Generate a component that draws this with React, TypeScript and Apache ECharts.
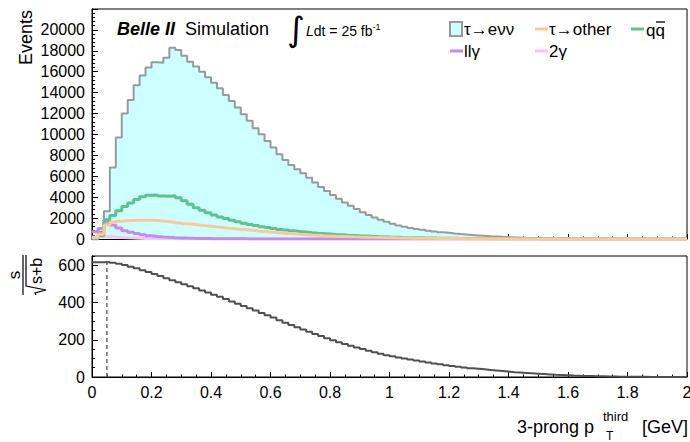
import React, { useEffect, useRef } from "react";
import * as echarts from "echarts";

// Histogram binning: 100 bins of 0.02 GeV from 0 to 2 GeV
const BIN_WIDTH = 0.02;
const X_MIN = 0;
const X_MAX = 2;

// Events per bin, signal tau -> e nu nu
const tauEvv = [
  60, 700, 2650, 6850, 9700, 12000, 13300, 14700, 15650, 16400,
  16900, 16850, 17330, 18300, 18080, 17520, 16950, 16500, 16000, 15480,
  14950, 14420, 13780, 13200, 12570, 11930, 11300, 10600, 10020, 9380,
  8750, 8110, 7560, 7080, 6670, 6300, 5850, 5400, 4980, 4580,
  4200, 3850, 3500, 3170, 2860, 2560, 2300, 2060, 1840, 1640,
  1460, 1300, 1170, 1060, 965, 880, 800, 720, 650, 590,
  530, 475, 425, 380, 340, 300, 265, 235, 205, 180,
  158, 138, 120, 104, 90, 77, 66, 56, 47, 40,
  33, 27, 22, 18, 15, 12, 10, 8, 6, 5,
  4, 3, 3, 2, 2, 1, 1, 1, 0, 0,
];

// Background: tau -> other
const tauOther = [
  150, 450, 1350, 1600, 1700, 1740, 1770, 1790, 1800, 1800,
  1760, 1720, 1660, 1600, 1530, 1460, 1400, 1340, 1280, 1220,
  1160, 1100, 1040, 985, 930, 880, 830, 770, 720, 670,
  620, 575, 530, 490, 450, 415, 380, 350, 320, 295,
  270, 248, 228, 209, 191, 175, 160, 146, 133, 121,
  110, 100, 91, 83, 75, 68, 61, 55, 50, 45,
  40, 36, 32, 29, 26, 23, 20, 18, 16, 14,
  12, 11, 10, 9, 8, 7, 6, 5, 4, 4,
  3, 3, 2, 2, 2, 1, 1, 1, 1, 0,
  0, 0, 0, 0, 0, 0, 0, 0, 0, 0,
];

// Background: q qbar continuum
const qqbar = [
  0, 300, 1850, 2250, 2700, 3100, 3450, 3780, 4030, 4180,
  4200, 4120, 4090, 4130, 3950, 3650, 3330, 3000, 2750, 2520,
  2300, 2110, 1950, 1790, 1640, 1510, 1390, 1280, 1180, 1090,
  1000, 920, 850, 780, 720, 665, 610, 560, 515, 475,
  435, 400, 365, 335, 305, 280, 255, 232, 211, 192,
  175, 159, 144, 131, 119, 108, 98, 88, 80, 72,
  65, 58, 52, 47, 42, 38, 34, 30, 27, 24,
  21, 19, 17, 15, 13, 11, 10, 9, 8, 7,
  6, 5, 4, 4, 3, 3, 2, 2, 2, 1,
  1, 1, 0, 0, 0, 0, 0, 0, 0, 0,
];

// Background: l l gamma
const llGamma = [
  700, 1000, 1600, 1350, 1050, 800, 650, 520, 400, 310,
  250, 200, 160, 130, 105, 85, 70, 58, 48, 40,
  33, 27, 22, 18, 15, 12, 10, 8, 6, 5,
  4, 3, 3, 2, 2, 1, 1, 0, 0, 0,
  0, 0, 0, 0, 0, 0, 0, 0, 0, 0,
  0, 0, 0, 0, 0, 0, 0, 0, 0, 0,
  0, 0, 0, 0, 0, 0, 0, 0, 0, 0,
  0, 0, 0, 0, 0, 0, 0, 0, 0, 0,
  0, 0, 0, 0, 0, 0, 0, 0, 0, 0,
  0, 0, 0, 0, 0, 0, 0, 0, 0, 0,
];

// Background: two-photon
const twoGamma = [
  200, 260, 230, 180, 140, 110, 85, 65, 50, 40,
  30, 24, 19, 15, 12, 9, 7, 6, 5, 4,
  3, 2, 2, 1, 0, 0, 0, 0, 0, 0,
  0, 0, 0, 0, 0, 0, 0, 0, 0, 0,
  0, 0, 0, 0, 0, 0, 0, 0, 0, 0,
  0, 0, 0, 0, 0, 0, 0, 0, 0, 0,
  0, 0, 0, 0, 0, 0, 0, 0, 0, 0,
  0, 0, 0, 0, 0, 0, 0, 0, 0, 0,
  0, 0, 0, 0, 0, 0, 0, 0, 0, 0,
  0, 0, 0, 0, 0, 0, 0, 0, 0, 0,
];

// s / sqrt(s + b) for a lower cut at each bin edge
const significance = [
  616, 617, 618, 614, 608, 601, 592, 584, 574, 564,
  553, 542, 531, 520, 509, 498, 488, 477, 465, 454,
  442, 431, 419, 406, 394, 382, 369, 357, 344, 332,
  319, 305, 292, 280, 267, 255, 243, 231, 220, 208,
  197, 187, 177, 168, 159, 150, 141, 133, 125, 117,
  111, 105, 99, 94, 88, 83, 78, 73, 68, 63,
  59, 55, 51, 47, 44, 41, 38, 35, 32, 29,
  26, 24, 22, 20, 18, 16, 14, 12, 11, 9.5,
  8, 7, 6, 5, 4, 3.5, 3, 2.5, 2, 1.6,
  1.3, 1, 0.8, 0.6, 0.4, 0.3, 0.2, 0.1, 0.05, 0,
];

// Optimal cut position
const optimalCut = 0.05;
const optimalSignificance = 618;

const FONT = '"Liberation Sans", Arial, Helvetica, sans-serif';

const COLORS = {
  fill: "#ccffff",
  outline: "#999999",
  other: "#fec896",
  qq: "#5ec28c",
  llg: "#c38af2",
  gg: "#fbc3f7",
  sig: "#505050",
};

function stepData(values: number[]) {
  const pts: number[][] = values.map((v, i) => [+(X_MIN + i * BIN_WIDTH).toFixed(2), v]);
  pts.push([X_MAX, values[values.length - 1]]);
  return pts;
}

function histSeries(name: string, values: number[], color: string, width: number, extra: any = {}) {
  return {
    name,
    type: "line",
    xAxisIndex: 0,
    yAxisIndex: 0,
    step: "end",
    symbol: "none",
    showSymbol: false,
    data: stepData(values),
    lineStyle: { color, width },
    itemStyle: { color },
    ...extra,
  };
}

const plainNumber = (v: number) => String(v);
const tickLabel = { color: "#000", fontSize: 16, fontFamily: FONT };

function xAxisCfg(gridIndex: number, showLabels: boolean) {
  return {
    type: "value",
    gridIndex,
    position: "bottom",
    min: X_MIN,
    max: X_MAX,
    interval: 0.2,
    axisLine: { show: true, lineStyle: { color: "#000", width: 1 } },
    axisTick: { show: true, inside: true, length: 5, lineStyle: { color: "#000", width: 1 } },
    minorTick: { show: true, splitNumber: 4, length: 2.5, lineStyle: { color: "#000", width: 1 } },
    splitLine: { show: false },
    minorSplitLine: { show: false },
    axisLabel: { show: showLabels, margin: 7, ...tickLabel, formatter: plainNumber, showMaxLabel: true, showMinLabel: true },
  };
}

function legendLine(x: number, y: number, color: string) {
  return {
    type: "line",
    shape: { x1: x, y1: y, x2: x + 13, y2: y },
    style: { stroke: color, lineWidth: 3 },
  };
}

function txt(text: string, x: number, y: number, size: number, extra: any = {}) {
  return {
    type: "text",
    x,
    y,
    style: {
      text,
      fontSize: size,
      fontFamily: FONT,
      fill: "#000",
      align: "left",
      verticalAlign: "middle",
      ...extra,
    },
  };
}

export default function App() {
  const ref = useRef<HTMLDivElement>(null);

  useEffect(() => {
    if (!ref.current) return;
    const chart = echarts.init(ref.current, undefined, { renderer: "svg" });

    const option: any = {
      animation: false,
      backgroundColor: "#ffffff",
      grid: [
        { left: 92, right: 3, top: 9, height: 230, show: true, borderColor: "#000", borderWidth: 1, outerBoundsMode: "none", containLabel: false },
        { left: 92, right: 3, top: 256, height: 121, show: true, borderColor: "#000", borderWidth: 1, outerBoundsMode: "none", containLabel: false },
      ],
      xAxis: [xAxisCfg(0, false), xAxisCfg(1, true)],
      yAxis: [
        {
          type: "value",
          gridIndex: 0,
          position: "left",
          min: 0,
          max: 22000,
          interval: 2000,
          axisLine: { show: true, lineStyle: { color: "#000", width: 1 } },
          axisTick: { show: true, inside: true, length: 6, lineStyle: { color: "#000" } },
          minorTick: { show: true, splitNumber: 5, length: 3, lineStyle: { color: "#000" } },
          splitLine: { show: false },
          axisLabel: { margin: 7, ...tickLabel, formatter: plainNumber, showMaxLabel: false },
        },
        {
          // fine ticks every 50
          type: "value",
          gridIndex: 1,
          position: "left",
          offset: 0,
          min: 0,
          max: 650,
          interval: 50,
          axisLine: { show: true, lineStyle: { color: "#000", width: 1 } },
          axisTick: { show: true, inside: true, length: 3, lineStyle: { color: "#000" } },
          splitLine: { show: false },
          axisLabel: { show: false },
        },
        {
          // labelled ticks every 200
          type: "value",
          gridIndex: 1,
          position: "left",
          offset: 0,
          min: 0,
          max: 650,
          interval: 200,
          axisLine: { show: false },
          axisTick: { show: true, inside: true, length: 6, lineStyle: { color: "#000" } },
          splitLine: { show: false },
          axisLabel: { margin: 7, ...tickLabel, formatter: plainNumber, showMaxLabel: false },
        },
      ],
      series: [
        histSeries("τ→eνν", tauEvv, COLORS.outline, 2, {
          areaStyle: { color: COLORS.fill, opacity: 1, origin: "start" },
        }),
        histSeries("2γ", twoGamma, COLORS.gg, 3),
        histSeries("llγ", llGamma, COLORS.llg, 3),
        histSeries("qq̄", qqbar, COLORS.qq, 3),
        histSeries("τ→other", tauOther, COLORS.other, 3),
        {
          name: "significance",
          type: "line",
          xAxisIndex: 1,
          yAxisIndex: 1,
          step: "end",
          symbol: "none",
          data: stepData(significance),
          lineStyle: { color: COLORS.sig, width: 2 },
        },
        {
          name: "cut",
          type: "line",
          xAxisIndex: 1,
          yAxisIndex: 1,
          symbol: "none",
          data: [
            [optimalCut, 0],
            [optimalCut, optimalSignificance],
          ],
          lineStyle: { color: "#666", width: 1.5, type: [4, 3] },
        },
      ],
      graphic: [
        // y-axis title, top panel
        { ...txt("Events", 26, 10, 18, { align: "right" }), rotation: Math.PI / 2 },
        // header texts
        txt("Belle II", 117, 29, 18, { fontWeight: "bold", fontStyle: "italic" }),
        txt("Simulation", 185, 29, 18),
        {
          type: "text",
          x: 296,
          y: 29,
          style: {
            text: "∫",
            fontSize: 34,
            fontFamily: '"DejaVu Sans", sans-serif',
            fill: "#000",
            align: "center",
            verticalAlign: "middle",
          },
        },
        txt("{l|L}dt = 25 fb{sup|-1}", 306, 31, 14, {
          rich: {
            l: { fontStyle: "italic", fontSize: 14, fontFamily: FONT, fill: "#000" },
            sup: { fontSize: 9, fontFamily: FONT, fill: "#000", verticalAlign: "top", padding: [0, 0, 8, 0] },
          },
        }),
        // legend
        {
          type: "rect",
          shape: { x: 450, y: 22, width: 12, height: 14 },
          style: { fill: COLORS.fill, stroke: COLORS.outline, lineWidth: 2 },
        },
        txt("τ→eνν", 464, 29, 17),
        legendLine(535, 29, COLORS.other),
        txt("τ→other", 549, 29, 17),
        legendLine(631, 29, COLORS.qq),
        txt("qq", 646, 30, 17),
        {
          type: "line",
          shape: { x1: 656, y1: 22, x2: 665, y2: 22 },
          style: { stroke: "#000", lineWidth: 1.3 },
        },
        legendLine(450, 51, COLORS.llg),
        txt("llγ", 464, 51, 17),
        legendLine(535, 51, COLORS.gg),
        txt("2γ", 549, 51, 17),
        // x-axis title
        txt("3-prong p", 594, 427, 18, { align: "right" }),
        txt("third", 603, 416, 13),
        txt("T", 606, 436, 12),
        txt("[GeV]", 688, 427, 18, { align: "right" }),
        // s / sqrt(s+b) title, rotated
        {
          type: "group",
          x: 23,
          y: 295,
          rotation: Math.PI / 2,
          children: [
            {
              type: "text",
              x: 20,
              y: 0,
              style: { text: "s", fontSize: 17, fontFamily: FONT, fill: "#000", align: "center", verticalAlign: "bottom" },
            },
            {
              type: "line",
              shape: { x1: 0, y1: 0, x2: 40, y2: 0 },
              style: { stroke: "#000", lineWidth: 1.2 },
            },
            {
              type: "polyline",
              shape: { points: [[0, 13], [2, 12], [5, 23], [9, 3], [40, 3]] },
              style: { stroke: "#000", lineWidth: 1.2, fill: null },
            },
            {
              type: "text",
              x: 11,
              y: 13,
              style: { text: "s+b", fontSize: 16, fontFamily: FONT, fill: "#000", align: "left", verticalAlign: "middle" },
            },
          ],
        },
      ],
    };

    chart.setOption(option);
    return () => chart.dispose();
  }, []);

  return (
    <div
      ref={ref}
      style={{ position: "fixed", left: 0, top: 0, width: 690, height: 442, background: "#fff" }}
    />
  );
}
